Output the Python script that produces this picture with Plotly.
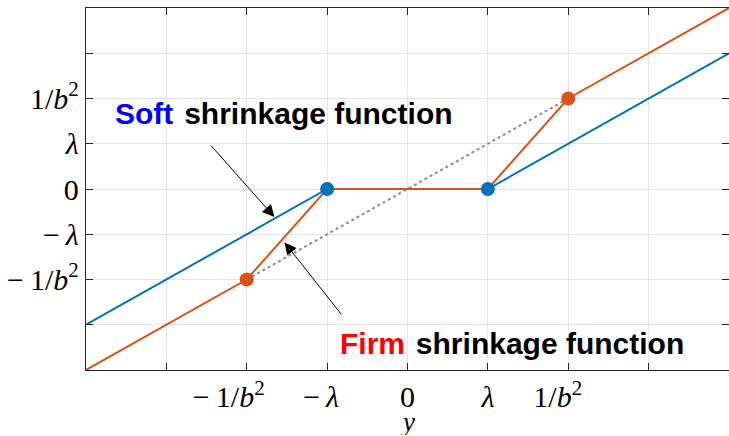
import plotly.graph_objects as go

# ---- data ----
lam = 1.0          # lambda
inv_b2 = 2.0       # 1/b^2
soft_x = [-4, -lam, lam, 4]
soft_y = [-3, 0, 0, 3]
firm_x = [-4, -inv_b2, -lam, lam, inv_b2, 4]
firm_y = [-4, -inv_b2, 0, 0, inv_b2, 4]
ident_x = [-inv_b2, inv_b2]
ident_y = [-inv_b2, inv_b2]
soft_knots_x = [-lam, lam]
soft_knots_y = [0, 0]
firm_knots_x = [-inv_b2, inv_b2]
firm_knots_y = [-inv_b2, inv_b2]

tick_vals = [-3, -2, -1, 0, 1, 2, 3]
x_tick_text = ["", "−\u20091/<i>b</i><sup>2</sup>\u2003\u2009", "−\u2009<i>λ</i>\u2009\u2009", "0",
               "<i>λ</i>", "1/<i>b</i><sup>2</sup>\u2002\u2009", ""]
y_tick_text = ["", "−\u20091/<i>b</i><sup>2</sup>", "−\u2009<i>λ</i>", "0", "<i>λ</i>",
               "1/<i>b</i><sup>2</sup>", ""]

BLUE = "#0072BD"
ORANGE = "#D95319"
AXC = "#262626"
GRID = "#e3e3e3"
SERIF = "Liberation Serif, DejaVu Serif, serif"
SANS = "Liberation Sans, Arial, sans-serif"

fig = go.Figure()
fig.add_trace(go.Scatter(x=ident_x, y=ident_y, mode="lines",
                         line=dict(color="#8c8c8c", width=2, dash="dot"),
                         showlegend=False, hoverinfo="skip"))
fig.add_trace(go.Scatter(x=soft_x, y=soft_y, mode="lines",
                         line=dict(color=BLUE, width=2), showlegend=False))
fig.add_trace(go.Scatter(x=firm_x, y=firm_y, mode="lines",
                         line=dict(color=ORANGE, width=2), showlegend=False))
fig.add_trace(go.Scatter(x=firm_knots_x, y=firm_knots_y, mode="markers",
                         marker=dict(color=ORANGE, size=14), showlegend=False))
fig.add_trace(go.Scatter(x=soft_knots_x, y=soft_knots_y, mode="markers",
                         marker=dict(color=BLUE, size=14), showlegend=False))
# invisible trace for right-side ticks
fig.add_trace(go.Scatter(x=[0], y=[0], yaxis="y2", mode="markers",
                         marker=dict(opacity=0), showlegend=False, hoverinfo="skip"))

fig.update_layout(
    width=729, height=436,
    margin=dict(l=86, r=0, t=8, b=66, autoexpand=False),
    plot_bgcolor="white", paper_bgcolor="white",
    xaxis=dict(range=[-4, 4], tickmode="array", tickvals=tick_vals, ticktext=x_tick_text,
               automargin=False,
               showgrid=True, gridcolor=GRID, gridwidth=1, zeroline=False,
               showline=True, linecolor=AXC, linewidth=1.3, mirror="ticks",
               ticks="inside", ticklen=7, tickcolor=AXC, tickwidth=1,
               tickfont=dict(family=SERIF, size=30, color="black")),
    yaxis=dict(range=[-4, 4], tickmode="array", tickvals=tick_vals, ticktext=y_tick_text,
               automargin=False,
               showgrid=True, gridcolor=GRID, gridwidth=1, zeroline=False,
               showline=True, linecolor=AXC, linewidth=1.3, mirror=False,
               ticks="inside", ticklen=7, tickcolor=AXC, tickwidth=1,
               tickfont=dict(family=SERIF, size=30, color="black")),
    yaxis2=dict(range=[-4, 4], overlaying="y", side="right", tickmode="array",
                automargin=False,
                tickvals=tick_vals, showticklabels=False, showgrid=False, zeroline=False,
                showline=False, ticks="inside", ticklen=7, tickcolor=AXC, tickwidth=1),
)

# x-axis title
fig.add_annotation(x=0, y=0, xref="x", yref="paper", yshift=-66, xanchor="center",
                   yanchor="bottom", text="<i>y</i>", showarrow=False, borderpad=0,
                   height=26, valign="middle",
                   font=dict(family=SERIF, size=27, color="black"))

fig.add_annotation(x=-3.67, y=1.66, xref="x", yref="y", xanchor="left", yanchor="middle",
                   text="<b><span style='color:#0000FF'>Soft</span> \u200ashrinkage function</b>",
                   showarrow=False, font=dict(family=SANS, size=30, color="black"))
fig.add_annotation(x=-0.87, y=-3.42, xref="x", yref="y", xanchor="left", yanchor="middle",
                   text="<b><span style='color:#FF0000'>Firm</span> \u200ashrinkage function</b>",
                   showarrow=False, font=dict(family=SANS, size=30, color="black"))
# arrows
fig.add_annotation(x=-1.655, y=-0.62, ax=-2.46, ay=0.99, xref="x", yref="y",
                   axref="x", ayref="y", text="", showarrow=True,
                   arrowhead=2, arrowsize=2.4, arrowwidth=1, arrowcolor="black")
fig.add_annotation(x=-1.53, y=-1.18, ax=-0.81, ay=-2.8, xref="x", yref="y",
                   axref="x", ayref="y", text="", showarrow=True,
                   arrowhead=2, arrowsize=2.4, arrowwidth=1, arrowcolor="black")

fig.write_html("out.html", config={"displayModeBar": False},
               post_script="document.body.style.margin='0';document.body.style.overflow='hidden';")
